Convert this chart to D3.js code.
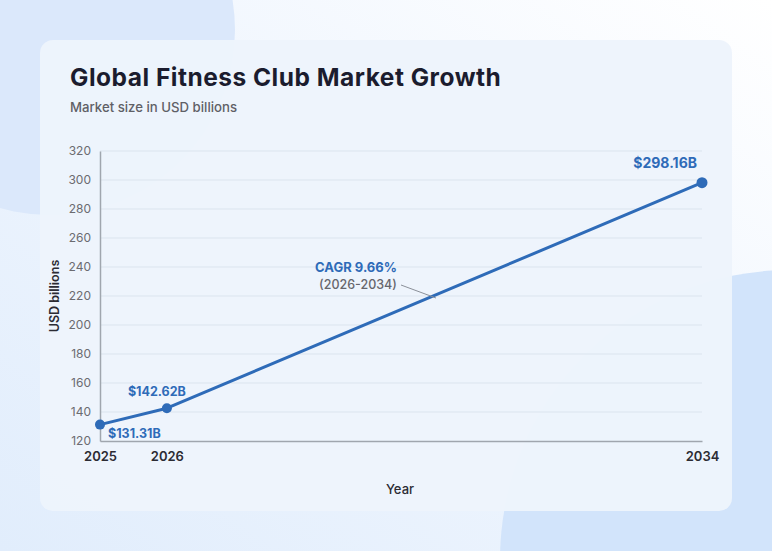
<!DOCTYPE html>
<html><head><meta charset="utf-8">
<script src="https://cdn.jsdelivr.net/npm/d3@7"></script>
<style>
html,body{margin:0;padding:0;width:772px;height:551px;overflow:hidden;}
svg{display:block;font-family:Inter,"Open Sans",sans-serif;}
</style></head>
<body>
<svg id="c" width="772" height="551"></svg>
<script>
const years = [2025, 2026, 2034];
const values = [131.31, 142.62, 298.16];
const valueLabels = ["$131.31B", "$142.62B", "$298.16B"];
const yTicks = [120, 140, 160, 180, 200, 220, 240, 260, 280, 300, 320];
const xTicks = [2025, 2026, 2034];
const title = "Global Fitness Club Market Growth";
const subtitle = "Market size in USD billions";
const cagrText = "CAGR 9.66%";
const cagrRange = "(2026-2034)";

const svg = d3.select("#c");
const defs = svg.append("defs");
const bg = defs.append("linearGradient").attr("id","bg").attr("x1","1").attr("y1","0").attr("x2","0").attr("y2","1");
bg.append("stop").attr("offset","0%").attr("stop-color","#ffffff");
bg.append("stop").attr("offset","45%").attr("stop-color","#f0f6fe");
bg.append("stop").attr("offset","100%").attr("stop-color","#e1edfc");
svg.append("rect").attr("width",772).attr("height",551).attr("fill","url(#bg)");
svg.append("circle").attr("cx",50).attr("cy",30).attr("r",185).attr("fill","#dbe8fb");
svg.append("circle").attr("cx",790).attr("cy",560).attr("r",290).attr("fill","#d2e4fb");

svg.append("rect").attr("x",40).attr("y",40).attr("width",692).attr("height",471).attr("rx",13)
  .attr("fill","#edf4fc").attr("opacity",0.97);

svg.append("text").attr("x",70).attr("y",86).attr("font-size",24.5).attr("font-weight",700)
  .attr("fill","#1b1c2e").attr("letter-spacing","0.5").text(title);
svg.append("text").attr("x",70).attr("y",112).attr("font-size",13.2).attr("font-weight",500)
  .attr("fill","#5f6066").text(subtitle);

const x = d3.scaleLinear().domain([2025, 2034]).range([100, 702]);
const y = d3.scaleLinear().domain([120, 320]).range([441, 151]);

const g = svg.append("g");
g.selectAll("line.grid").data(yTicks.slice(1)).join("line")
  .attr("x1",100).attr("x2",702).attr("y1",d=>y(d)).attr("y2",d=>y(d))
  .attr("stroke","#dbe4ee").attr("stroke-width",1);

const yAxis = g.append("g").attr("transform","translate(100,0)")
  .call(d3.axisLeft(y).tickValues(yTicks).tickSize(0).tickPadding(9));
yAxis.select(".domain").attr("stroke","#a0a6ae").attr("stroke-width",1.5);
yAxis.selectAll("text").attr("font-size",12).attr("fill","#6b6b70").attr("font-family","Inter,sans-serif");

const xAxis = g.append("g").attr("transform","translate(0,441)")
  .call(d3.axisBottom(x).tickValues(xTicks).tickFormat(d3.format("d")).tickSize(0).tickPadding(11));
xAxis.select(".domain").attr("stroke","#a0a6ae").attr("stroke-width",1.5);
xAxis.selectAll("text").attr("font-size",13).attr("font-weight",600).attr("fill","#2b2b33").attr("font-family","Inter,sans-serif");

svg.append("text").attr("x",400).attr("y",494).attr("text-anchor","middle").attr("font-size",13)
  .attr("font-weight",500).attr("fill","#2b2b33").text("Year");
svg.append("text").attr("transform","translate(59,296) rotate(-90)").attr("text-anchor","middle")
  .attr("font-size",12.5).attr("font-weight",600).attr("fill","#2b2b33").text("USD billions");

const data = years.map((yr,i)=>({yr, v: values[i], label: valueLabels[i]}));
const blue = "#2e6bb8";
svg.append("path").datum(data).attr("fill","none").attr("stroke",blue).attr("stroke-width",3)
  .attr("stroke-linejoin","round")
  .attr("d", d3.line().x(d=>x(d.yr)).y(d=>y(d.v)));
svg.selectAll("circle.pt").data(data).join("circle").attr("class","pt")
  .attr("cx",d=>x(d.yr)).attr("cy",d=>y(d.v)).attr("r",(d,i)=>i===2?5.5:5).attr("fill",blue);

const lbl = svg.append("g").attr("font-size",12.5).attr("font-weight",700).attr("fill",blue);
lbl.append("text").attr("x",x(data[0].yr)+8).attr("y",y(data[0].v)+13).text(data[0].label);
lbl.append("text").attr("x",x(data[1].yr)-10).attr("y",y(data[1].v)-12).attr("text-anchor","middle").text(data[1].label);
lbl.append("text").attr("x",x(data[2].yr)-5).attr("y",y(data[2].v)-15).attr("text-anchor","end").attr("font-size",14).text(data[2].label);

svg.append("text").attr("x",356).attr("y",272).attr("text-anchor","middle").attr("font-size",13)
  .attr("font-weight",700).attr("fill",blue).text(cagrText);
svg.append("text").attr("x",358).attr("y",289).attr("text-anchor","middle").attr("font-size",12.5)
  .attr("font-weight",500).attr("fill","#66666c").text(cagrRange);
svg.append("line").attr("x1",401).attr("y1",285).attr("x2",436).attr("y2",298)
  .attr("stroke","#8b9099").attr("stroke-width",1);
</script>
</body></html>
